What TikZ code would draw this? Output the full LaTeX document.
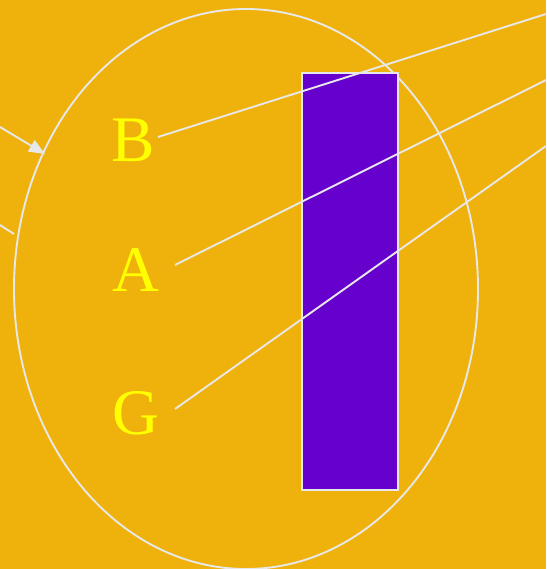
\documentclass[tikz,border=0pt]{standalone}
\usepackage{fontspec}
\setmainfont{Liberation Serif}
\usetikzlibrary{arrows.meta}
\definecolor{bg}{HTML}{EFB10C}
\definecolor{ln}{HTML}{E8E8E8}
\definecolor{bar}{HTML}{6600CC}
\definecolor{let}{HTML}{FFFF00}
\tikzset{
  letter/.style={text=let,font=\fontsize{65}{65}\selectfont,inner sep=0pt},
  wire/.style={draw=ln,line width=1.9pt}
}
\begin{document}
\begin{tikzpicture}[x=1pt,y=-1pt]
\fill[bg] (0,0) rectangle (546,569);
\useasboundingbox (0,0) rectangle (546,569);
\draw[wire] (246,289) ellipse [x radius=232,y radius=280];
\node[draw=ln,line width=2pt,fill=bar,minimum width=96pt,minimum height=417pt,inner sep=0pt] (rect) at (350,281.5) {};
\node[letter] (B) at (133,140) {B};
\node[letter] (A) at (136,270) {A};
\node[letter] (G) at (136,413) {G};
\coordinate (b1) at (158,137);
\coordinate (b2) at (546,14);
\coordinate (a1) at (175,265);
\coordinate (a2) at (546,80);
\coordinate (g1) at (175,409);
\coordinate (g2) at (546,146);
\draw[wire] (b1) -- (b2);
\draw[wire] (a1) -- (a2);
\draw[wire] (g1) -- (g2);
\coordinate (l1) at (0,127);
\coordinate (l2) at (45,154);
\draw[wire,-{Triangle[length=16pt,width=13pt]}] (l1) -- (l2);
\coordinate (m1) at (0,225);
\coordinate (m2) at (14,234);
\draw[wire] (m1) -- (m2);
\end{tikzpicture}
\end{document}
